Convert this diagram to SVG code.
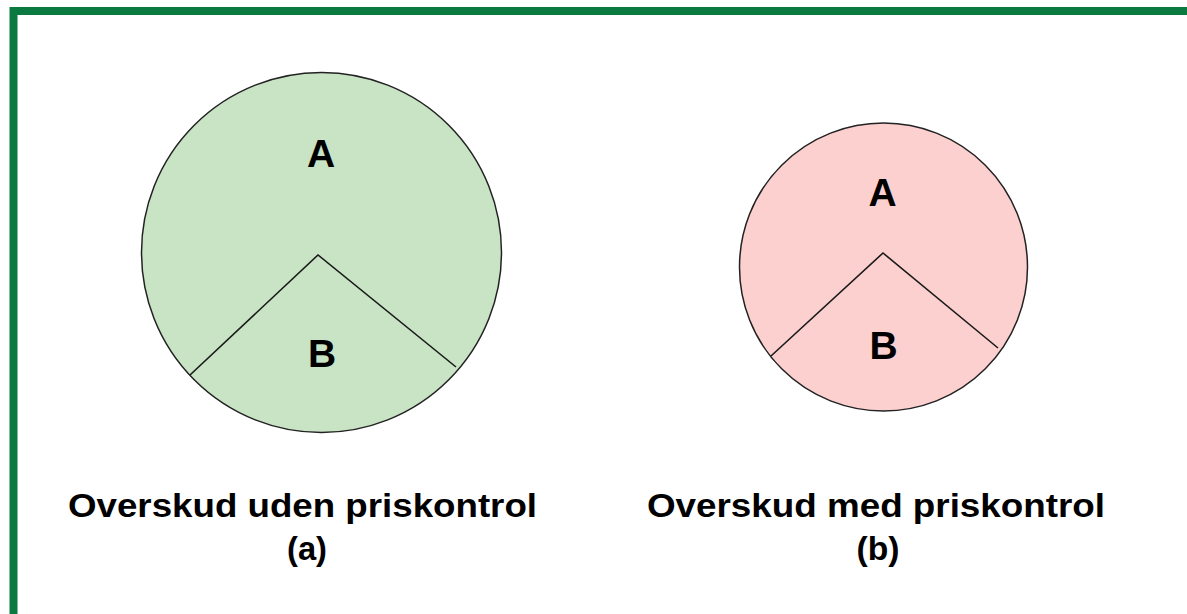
<svg xmlns="http://www.w3.org/2000/svg" width="1187" height="614" viewBox="0 0 1187 614">
<style>
.frame{fill:none;stroke:#0a7a40;stroke-width:8}
.disc{stroke:#222;stroke-width:1.5}
.cut{fill:none;stroke:#1a1a1a;stroke-width:1.6}
.lbl{font-family:"Liberation Sans",Arial,sans-serif;font-weight:bold;fill:#000;text-anchor:middle}
</style>
<rect width="1187" height="614" fill="#fff"/>
<path class="frame" d="M13.5,620 V11 H1195"/>
<g id="pie-a">
<circle class="disc" cx="321.5" cy="252.5" r="180" fill="#c8e4c4"/>
<polyline class="cut" points="190,375 318,255 456,367"/>
<text class="lbl" x="321" y="167" font-size="39">A</text>
<text class="lbl" x="322" y="367" font-size="39">B</text>
</g>
<g id="pie-b">
<circle class="disc" cx="883.5" cy="267" r="144" fill="#fdd0d0"/>
<polyline class="cut" points="771,356 883,253 998,348"/>
<text class="lbl" x="882.5" y="206" font-size="39">A</text>
<text class="lbl" x="883.5" y="359" font-size="39">B</text>
</g>
<g id="caption-a">
<text class="lbl" x="302.5" y="517" font-size="33" textLength="469" lengthAdjust="spacingAndGlyphs">Overskud uden priskontrol</text>
<text class="lbl" x="307" y="560" font-size="33" textLength="40" lengthAdjust="spacingAndGlyphs">(a)</text>
</g>
<g id="caption-b">
<text class="lbl" x="876" y="517" font-size="33" textLength="458" lengthAdjust="spacingAndGlyphs">Overskud med priskontrol</text>
<text class="lbl" x="878" y="560" font-size="33" textLength="43" lengthAdjust="spacingAndGlyphs">(b)</text>
</g>
<g id="connectors"></g>
</svg>
